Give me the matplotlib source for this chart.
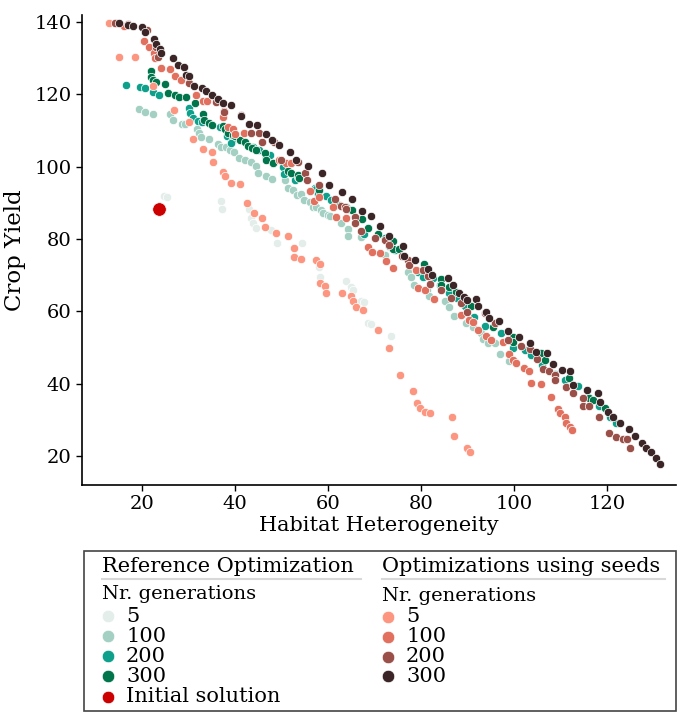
#!/usr/bin/env python3
"""Pareto fronts: crop yield vs habitat heterogeneity, reference vs seeded optimizations."""

import matplotlib

matplotlib.use("Agg")
import matplotlib.pyplot as plt  # noqa: E402
from matplotlib.lines import Line2D  # noqa: E402
from matplotlib.patches import Rectangle  # noqa: E402

plt.rcParams["font.family"] = ["DejaVu Serif"]

GENERATIONS = ["5", "100", "200", "300"]

# Reference optimization (habitat heterogeneity, crop yield) per generation count
ref5_x = [24.6, 25.3, 37.0, 37.2, 42.9, 43.4, 43.8, 44.5, 47.7, 48.9, 54.4, 58.1, 58.3, 63.9, 65.0,
          65.3, 67.0, 67.8, 68.6, 69.3, 73.6]
ref5_y = [92.0, 91.5, 90.5, 88.2, 88.2, 85.7, 84.5, 82.9, 82.6, 78.8, 78.8, 72.2, 69.4, 68.5, 66.6,
          65.9, 62.9, 62.7, 56.7, 56.5, 53.2]

ref100_x = [19.3, 20.6, 22.2, 26.0, 26.5, 28.6, 29.2, 31.7, 32.3, 32.6, 34.4, 36.2, 36.9, 38.0, 38.8,
            39.8, 40.9, 42.0, 43.4, 44.5, 44.9, 46.6, 47.9, 50.8, 51.3, 52.4, 53.2, 54.2, 54.9, 56.0,
            56.7, 57.4, 58.5, 58.9, 59.9, 60.3, 62.8, 64.2, 64.2, 67.1, 72.2, 77.3, 77.9, 78.4, 81.3,
            81.8, 85.1, 86.1, 87.0, 89.7, 91.2, 93.0, 93.3, 94.4, 95.9, 97.0, 99.0]
ref100_y = [116.0, 115.1, 114.5, 114.4, 112.8, 111.7, 111.7, 110.5, 109.2, 108.1, 107.6, 106.2, 105.5,
            105.3, 104.7, 104.1, 102.3, 101.8, 101.3, 100.2, 98.3, 97.5, 96.5, 96.3, 94.0, 93.5, 92.1,
            92.4, 90.7, 90.3, 88.9, 88.9, 88.0, 87.3, 86.6, 86.3, 84.5, 82.7, 80.7, 80.5, 75.7, 70.8,
            69.4, 67.3, 65.9, 64.2, 62.9, 61.3, 58.8, 56.8, 55.8, 53.9, 52.3, 51.2, 51.2, 48.2, 46.4]

ref200_x = [16.4, 19.5, 20.6, 22.2, 23.6, 30.1, 30.2, 30.8, 32.0, 32.8, 36.7, 38.0, 38.3, 39.4, 39.1,
            43.8, 45.2, 46.6, 47.4, 48.1, 50.2, 50.6, 52.8, 53.6, 57.1, 57.4, 57.8, 59.5, 60.6, 62.3,
            64.2, 66.0, 67.8, 72.2, 73.2, 74.3, 79.3, 80.4, 82.6, 84.0, 86.1, 87.7, 89.5, 91.5, 93.7,
            97.3, 99.8, 102.3, 103.7, 106.1, 108.8, 111.0, 113.8, 116.0, 118.3, 120.6, 122.0]
ref200_y = [122.5, 122.1, 121.6, 120.6, 119.8, 116.3, 114.8, 113.4, 112.6, 112.4, 111.0, 110.3, 108.4,
            107.1, 106.4, 105.5, 104.7, 102.7, 103.2, 101.1, 100.0, 97.9, 96.3, 97.2, 94.0, 93.7, 92.4,
            91.9, 90.7, 89.4, 88.2, 85.7, 81.5, 80.2, 78.0, 76.9, 70.9, 69.6, 69.1, 67.3, 65.0, 63.6,
            61.5, 58.5, 55.9, 53.9, 50.0, 49.3, 47.9, 45.2, 42.7, 41.0, 39.4, 36.2, 33.8, 30.7, 29.0]

ref300_x = [21.9, 21.9, 22.2, 23.0, 24.8, 25.5, 27.0, 27.9, 29.5, 31.3, 33.0, 33.2, 34.4, 35.0, 37.3,
            37.8, 38.4, 39.5, 40.0, 41.0, 42.0, 42.7, 43.6, 44.5, 46.3, 46.6, 48.1, 51.3, 52.0, 53.5,
            53.8, 58.1, 63.9, 65.2, 67.3, 68.6, 70.7, 73.9, 73.9, 75.2, 80.7, 84.2, 84.4, 86.1, 87.6,
            90.8, 95.5, 99.8, 99.9, 105.9, 106.8, 111.9, 116.2, 117.0, 119.6]
ref300_y = [126.4, 124.8, 123.9, 123.4, 122.7, 120.4, 119.8, 119.2, 119.1, 117.6, 114.5, 112.9, 112.1,
            111.5, 111.3, 110.5, 109.2, 108.8, 108.5, 107.4, 106.9, 105.7, 105.2, 104.7, 103.7, 101.7,
            101.1, 98.8, 98.2, 97.6, 96.8, 93.5, 88.9, 88.0, 85.6, 82.9, 81.5, 79.5, 77.1, 77.1, 73.0,
            68.8, 67.3, 66.8, 65.4, 61.5, 55.6, 52.8, 51.6, 48.4, 46.5, 41.5, 36.0, 35.5, 33.2]

# Optimizations using seeds
seed5_x = [12.9, 15.0, 18.5, 22.2, 26.9, 30.1, 30.8, 33.0, 34.9, 35.2, 37.3, 37.7, 39.0, 41.0, 42.5,
           44.1, 45.8, 46.5, 48.8, 51.3, 52.6, 52.6, 54.2, 57.4, 58.3, 58.3, 59.4, 59.6, 63.0, 65.0,
           65.4, 66.1, 67.5, 70.7, 73.2, 75.5, 78.2, 79.1, 79.7, 80.9, 81.9, 86.7, 87.0, 89.9, 90.5]
seed5_y = [139.6, 130.3, 130.3, 122.2, 115.6, 112.4, 107.6, 105.0, 104.1, 101.3, 98.6, 97.4, 95.6,
           95.2, 90.0, 87.1, 85.9, 83.4, 81.7, 80.9, 77.6, 74.9, 74.4, 74.2, 73.0, 67.9, 67.0, 65.1,
           65.0, 64.3, 62.9, 61.1, 60.5, 54.8, 49.8, 42.4, 38.1, 34.6, 33.2, 32.3, 31.8, 30.7, 25.5,
           22.2, 21.2]

seed100_x = [16.1, 20.3, 21.5, 22.6, 22.8, 24.0, 26.0, 27.1, 28.3, 31.6, 33.0, 34.0, 37.3, 38.4, 39.5,
             39.9, 41.8, 49.4, 50.9, 52.0, 56.1, 57.0, 58.1, 61.1, 61.6, 63.9, 68.6, 69.5, 71.1, 72.5,
             73.9, 79.0, 79.4, 80.8, 82.9, 88.7, 90.3, 91.2, 92.3, 93.9, 95.1, 97.6, 98.9, 99.7, 100.5,
             102.2, 103.3, 103.7, 105.9, 107.9, 109.5, 110.0, 110.9, 111.2, 112.1, 112.6]
seed100_y = [138.9, 134.7, 133.0, 131.3, 129.9, 127.3, 127.0, 125.0, 123.9, 119.8, 118.1, 118.0, 113.8,
             111.0, 110.5, 109.1, 109.2, 101.8, 100.9, 100.9, 93.2, 90.6, 91.7, 88.9, 86.1, 85.9, 77.9,
             76.3, 76.0, 73.9, 71.9, 71.4, 66.4, 65.9, 63.5, 59.0, 57.6, 57.1, 54.8, 53.2, 52.1, 51.6,
             48.2, 46.6, 45.8, 44.3, 43.6, 40.3, 40.0, 36.4, 33.0, 31.8, 30.7, 29.0, 28.1, 27.2]

seed200_x = [14.0, 16.8, 21.0, 23.0, 23.3, 30.0, 35.8, 37.5, 37.6, 41.3, 43.4, 45.2, 45.8, 48.4, 49.9,
             53.5, 55.1, 55.4, 58.1, 61.4, 62.8, 63.7, 63.9, 65.7, 65.7, 67.1, 70.0, 72.2, 73.2, 75.8,
             77.2, 77.5, 80.4, 81.5, 81.9, 84.2, 86.5, 88.7, 89.8, 93.7, 95.9, 98.7, 101.6, 103.4, 105.0,
             106.3, 107.6, 108.8, 108.8, 111.3, 112.7, 114.8, 114.9, 116.2, 118.3, 120.5, 122.0, 123.4,
             124.4, 125.1]
seed200_y = [139.6, 139.3, 137.8, 133.1, 130.3, 123.0, 117.9, 115.4, 115.1, 114.2, 109.2, 109.2, 106.9,
             106.9, 101.8, 101.3, 98.1, 96.3, 94.9, 91.0, 89.1, 88.7, 88.2, 86.1, 84.3, 82.2, 80.2, 79.7,
             78.3, 75.3, 74.2, 72.8, 71.4, 69.8, 67.5, 65.9, 63.8, 62.4, 59.9, 59.4, 56.7, 52.1, 50.4,
             49.5, 46.7, 44.0, 43.6, 42.4, 41.0, 39.2, 37.3, 36.0, 33.8, 33.8, 30.7, 26.5, 25.2, 24.6,
             24.6, 22.2]

seed300_x = [14.9, 17.0, 17.9, 19.9, 20.6, 22.6, 23.0, 23.7, 24.0, 26.7, 27.6, 28.9, 29.3, 30.1, 31.2,
             32.9, 33.7, 35.0, 36.2, 37.3, 39.1, 41.3, 42.9, 44.6, 46.6, 47.9, 49.5, 51.7, 53.0, 55.6,
             58.6, 60.1, 63.0, 65.2, 67.3, 69.3, 71.2, 73.0, 76.2, 76.3, 78.8, 81.5, 82.4, 85.7, 86.9,
             88.2, 89.3, 89.9, 91.8, 92.3, 93.9, 94.7, 96.8, 98.7, 101.2, 103.4, 104.8, 107.1, 108.4,
             110.4, 112.1, 112.7, 115.8, 118.1, 118.5, 120.3, 121.4, 122.8, 124.8, 126.1, 127.5, 128.5,
             129.6, 130.5, 131.4]
seed300_y = [139.8, 139.2, 138.9, 138.6, 137.1, 135.4, 134.0, 132.6, 131.5, 129.9, 128.2, 127.6, 125.3,
             125.1, 122.3, 121.8, 120.9, 119.8, 118.8, 117.7, 116.9, 114.0, 111.9, 111.4, 108.9, 107.3,
             106.1, 104.1, 101.8, 100.1, 98.1, 94.9, 93.0, 91.0, 87.8, 86.4, 83.6, 80.8, 78.1, 75.3,
             74.2, 71.7, 70.0, 69.3, 67.3, 65.1, 64.0, 63.1, 63.4, 61.5, 59.9, 58.1, 57.4, 54.6, 53.0,
             51.3, 48.8, 48.6, 45.4, 43.8, 43.6, 39.6, 38.3, 37.3, 35.0, 32.3, 30.7, 29.2, 27.5, 25.5,
             23.5, 22.2, 21.1, 19.4, 17.8]

initial_x = [23.5]
initial_y = [88.4]

ref_colors = ["#e3eeea", "#a3d0c3", "#0fa08b", "#00744b"]
seed_colors = ["#fc9680", "#e2705f", "#9a5048", "#3b2527"]
initial_color = "#cc0000"

ref_series = [(ref5_x, ref5_y), (ref100_x, ref100_y), (ref200_x, ref200_y), (ref300_x, ref300_y)]
seed_series = [(seed5_x, seed5_y), (seed100_x, seed100_y), (seed200_x, seed200_y), (seed300_x, seed300_y)]

W, H = 678, 713
fig = plt.figure(figsize=(W / 100, H / 100), dpi=100)
ax = fig.add_axes([82 / W, 1 - 485 / H, (676 - 82) / W, (485 - 15) / H])

for (xs, ys), c in zip(ref_series, ref_colors):
    ax.scatter(xs, ys, s=36, color=c, edgecolor="white", linewidth=0.5, zorder=2)
for (xs, ys), c in zip(seed_series, seed_colors):
    ax.scatter(xs, ys, s=36, color=c, edgecolor="white", linewidth=0.5, zorder=3)
ax.scatter(initial_x, initial_y, s=95, color=initial_color, edgecolor="white", linewidth=0.5, zorder=4)

ax.set_xlim(7, 134.9)
ax.set_ylim(12, 141.9)
ax.set_xticks([20, 40, 60, 80, 100, 120])
ax.set_yticks([20, 40, 60, 80, 100, 120, 140])
ax.tick_params(labelsize=14, length=4, width=1)
ax.set_xlabel("Habitat Heterogeneity", fontsize=15, labelpad=2)
ax.set_ylabel("Crop Yield", fontsize=16.5, labelpad=6)
for side in ["top", "right"]:
    ax.spines[side].set_visible(False)
for side in ["left", "bottom"]:
    ax.spines[side].set_linewidth(1.2)


# manual legend, laid out in pixel coordinates of the figure
def fx(px):
    return px / W


def fy(py):
    return 1 - py / H


fig.patches.append(Rectangle((fx(84), fy(711)), fx(676) - fx(84), fy(551) - fy(711),
                             transform=fig.transFigure, facecolor="white", edgecolor="#444444",
                             linewidth=1.2))

LEG_FS = 15


def column(x0, title, colors, rows_y, title_y, sub_y, underline_end):
    fig.text(fx(x0), fy(title_y), title, fontsize=LEG_FS, va="center", ha="left")
    fig.add_artist(Line2D([fx(x0), fx(underline_end)], [fy(579), fy(579)],
                          transform=fig.transFigure, color="#d8d8d8", linewidth=1.5))
    fig.text(fx(x0), fy(sub_y), "Nr. generations", fontsize=LEG_FS - 1, va="center", ha="left")
    for lab, c, y in zip(GENERATIONS, colors, rows_y):
        fig.add_artist(Line2D([fx(x0 + 6)], [fy(y)], transform=fig.transFigure, marker="o",
                              markersize=9, color=c, markeredgecolor="white", markeredgewidth=0.5,
                              linestyle="none"))
        fig.text(fx(x0 + 24), fy(y), lab, fontsize=LEG_FS, va="center", ha="left")


column(102, "Reference Optimization", ref_colors, [616, 636, 656, 676], 567, 594, 361)
column(382, "Optimizations using seeds", seed_colors, [617, 637, 657, 676], 567, 596, 665)

fig.add_artist(Line2D([fx(108)], [fy(697)], transform=fig.transFigure, marker="o", markersize=9,
                      color=initial_color, markeredgecolor="white", markeredgewidth=0.5,
                      linestyle="none"))
fig.text(fx(126), fy(697), "Initial solution", fontsize=LEG_FS, va="center", ha="left")

fig.savefig("out.png", dpi=100)
